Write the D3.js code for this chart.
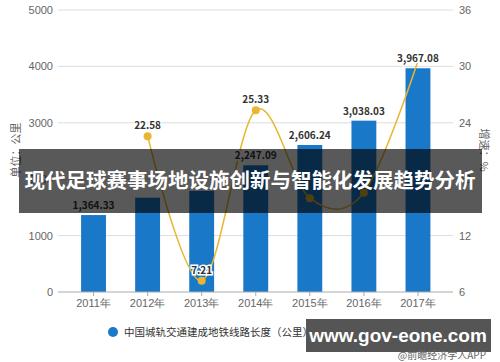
<!DOCTYPE html>
<html>
<head>
<meta charset="utf-8">
<script src="https://cdn.jsdelivr.net/npm/d3@7"></script>
<style>
  body { margin: 0; background: #fff; }
  svg { display: block; font-family: "Noto Sans CJK SC", "Liberation Sans", sans-serif; }
  .tick text { fill: #666; font-size: 11px; }
  .barLabel, .lineLabel { font-size: 10px; font-weight: bold; fill: #333; stroke: #fff; stroke-width: 3px; paint-order: stroke; }
</style>
</head>
<body>
<script>
(function(){

    // chart data
    var years = ["2011年", "2012年", "2013年", "2014年", "2015年", "2016年", "2017年"];
    var lengthKm = [1364.33, 1672.4, 1793.0, 2247.09, 2606.24, 3038.03, 3967.08];
    var growth = [null, 22.58, 7.21, 25.33, 15.98, 16.57, 30.58];
    var leftTicks = [0, 1000, 2000, 3000, 4000, 5000];
    var rightTicks = [6, 12, 18, 24, 30, 36];
    // only these labels show in the picture
    var shownBarLabels = [0, 3, 4, 5, 6];
    var shownGrowthLabels = [1, 2, 3];

    var width = 500, height = 362;
    var left = 66.5, right = 445, top = 10, bottom = 292;
    var barColor = "#1a78c8", lineColor = "#e8b630";

    var svg = d3.select("body").append("svg")
        .attr("width", width)
        .attr("height", height);

    var x = d3.scaleBand().domain(years).range([left, right]).paddingInner(0.54).paddingOuter(0.27);
    var yL = d3.scaleLinear().domain([0, 5000]).range([bottom, top]);
    var yR = d3.scaleLinear().domain([6, 36]).range([bottom, top]);
    var cx = function(d){ return x(d) + x.bandwidth() / 2; };

    // grid
    svg.append("g").selectAll("line")
        .data(leftTicks.slice(1))
        .enter().append("line")
        .attr("x1", 58).attr("x2", 453)
        .attr("y1", function(d){ return yL(d); })
        .attr("y2", function(d){ return yL(d); })
        .attr("stroke", "#ddd").attr("stroke-width", 1);

    // left axis
    var gl = svg.append("g")
        .attr("transform", "translate(58,0)")
        .call(d3.axisLeft(yL).tickValues(leftTicks).tickFormat(d3.format("d")).tickSize(0).tickPadding(5));
    gl.select(".domain").remove();

    // right axis
    var gr = svg.append("g")
        .attr("transform", "translate(453,0)")
        .call(d3.axisRight(yR).tickValues(rightTicks).tickSize(0).tickPadding(6));
    gr.select(".domain").remove();

    // bars
    svg.selectAll(".bar")
        .data(years)
        .enter().append("rect")
        .attr("class", "bar")
        .attr("x", function(d){ return x(d); })
        .attr("width", x.bandwidth())
        .attr("y", function(d, i){ return yL(lengthKm[i]); })
        .attr("height", function(d, i){ return bottom - yL(lengthKm[i]); })
        .attr("fill", barColor);

    // x axis
    var gx = svg.append("g")
        .attr("transform", "translate(0," + bottom + ")")
        .call(d3.axisBottom(x).tickSize(4).tickPadding(3));
    gx.select(".domain").attr("stroke", "#aaa").attr("d", "M58,0H453");
    gx.selectAll(".tick line").attr("stroke", "#aaa");
    gx.selectAll(".tick text").attr("fill", "#555");

    // growth line
    var pts = years.map(function(d, i){ return [cx(d), growth[i]]; })
        .filter(function(p){ return p[1] !== null; });

    var line = d3.line()
        .x(function(p){ return p[0]; })
        .y(function(p){ return yR(p[1]); })
        .curve(d3.curveCardinal.tension(0));

    svg.append("path")
        .datum(pts)
        .attr("d", line)
        .attr("fill", "none")
        .attr("stroke", lineColor)
        .attr("stroke-width", 1.5);

    svg.selectAll(".dot")
        .data(pts.slice(0, pts.length - 1))
        .enter().append("circle")
        .attr("cx", function(p){ return p[0]; })
        .attr("cy", function(p){ return yR(p[1]); })
        .attr("r", 4)
        .attr("fill", lineColor);

    // labels
    svg.selectAll(".barLabel")
        .data(shownBarLabels)
        .enter().append("text")
        .attr("class", "barLabel")
        .attr("x", function(i){ return cx(years[i]); })
        .attr("y", function(i){ return yL(lengthKm[i]) - 6; })
        .attr("text-anchor", "middle")
        .text(function(i){ return d3.format(",.2f")(lengthKm[i]); });

    svg.selectAll(".lineLabel")
        .data(shownGrowthLabels)
        .enter().append("text")
        .attr("class", "lineLabel")
        .attr("x", function(i){ return cx(years[i]); })
        .attr("y", function(i){ return yR(growth[i]) - 7; })
        .attr("text-anchor", "middle")
        .text(function(i){ return growth[i].toFixed(2); });

    // axis titles
    svg.append("text")
        .attr("transform", "translate(20,150) rotate(-90)")
        .attr("text-anchor", "middle")
        .attr("font-size", 11).attr("fill", "#666")
        .text("单位：公里");
    svg.append("text")
        .attr("transform", "translate(480,150) rotate(90)")
        .attr("text-anchor", "middle")
        .attr("font-size", 11).attr("fill", "#666")
        .text("增速：%");

    // legend
    var lg = svg.append("g").attr("font-size", 10.5).attr("fill", "#333");
    lg.append("circle").attr("cx", 113).attr("cy", 332).attr("r", 5).attr("fill", barColor);
    lg.append("text").attr("x", 124).attr("y", 336).text("中国城轨交通建成地铁线路长度（公里）");
    lg.append("circle").attr("cx", 331).attr("cy", 332).attr("r", 5).attr("fill", lineColor);
    lg.append("text").attr("x", 344).attr("y", 336).text("增速（%）");

    // title overlay
    svg.append("rect")
        .attr("x", 19).attr("y", 149).attr("width", 463).attr("height", 64)
        .attr("fill", "rgba(0,0,0,0.65)");
    svg.append("text")
        .attr("x", 250).attr("y", 188)
        .attr("text-anchor", "middle")
        .attr("font-size", 20.5).attr("font-weight", "bold").attr("fill", "#fff")
        .text("现代足球赛事场地设施创新与智能化发展趋势分析");

    // site stamp
    svg.append("rect")
        .attr("x", 306).attr("y", 319).attr("width", 185).attr("height", 33)
        .attr("fill", "#555");
    svg.append("text")
        .attr("x", 398).attr("y", 342)
        .attr("text-anchor", "middle")
        .attr("font-size", 19).attr("font-weight", "bold").attr("fill", "#fff")
        .attr("font-family", "Liberation Sans, sans-serif")
        .text("www.gov-eone.com");
    svg.append("text")
        .attr("x", 486).attr("y", 359)
        .attr("text-anchor", "end")
        .attr("font-size", 10).attr("fill", "#666")
        .text("@前瞻经济学人APP");

})();
</script>
</body>
</html>
